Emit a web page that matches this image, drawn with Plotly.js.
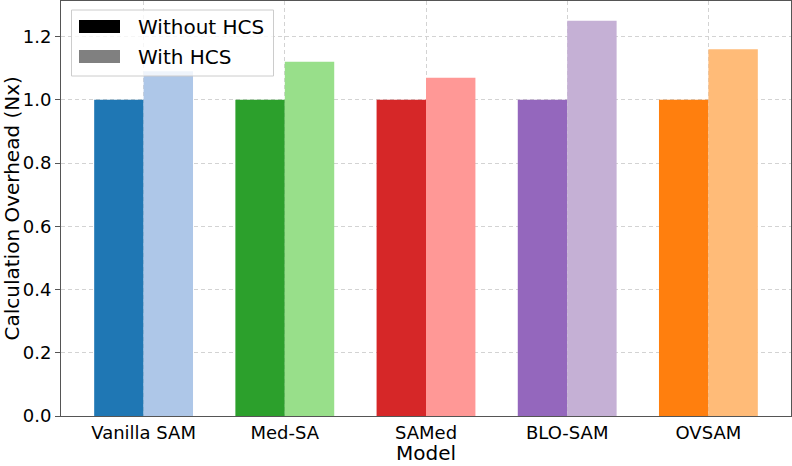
<!DOCTYPE html>
<html>
<head>
<meta charset="utf-8">
<script src="https://cdn.plot.ly/plotly-3.0.1.min.js"></script>
<style>html,body{margin:0;padding:0;background:#fff;}#chart{width:792px;height:466px;}</style>
</head>
<body>
<div id="chart"></div>
<script>
const categories = ['Vanilla SAM', 'Med-SA', 'SAMed', 'BLO-SAM', 'OVSAM'];
const withoutHCS = [1.0, 1.0, 1.0, 1.0, 1.0];
const withHCS = [1.09, 1.12, 1.07, 1.25, 1.16];
const darkColors = ['#1f77b4', '#2ca02c', '#d62728', '#9467bd', '#ff7f0e'];
const lightColors = ['#aec7e8', '#98df8a', '#ff9896', '#c5b0d5', '#ffbb78'];
const legendLabels = ['Without HCS', 'With HCS'];
const legendColors = ['#000000', '#808080'];
const yTicks = [0, 0.2, 0.4, 0.6, 0.8, 1.0, 1.2];
const xTitle = 'Model';
const yTitle = 'Calculation Overhead (Nx)';

const xIdx = categories.map((c, i) => i);
const xRange = [-0.585, 4.585];
const font = 'DejaVu Sans, sans-serif';

const traces = [
  {type: 'bar', x: xIdx, y: withoutHCS, name: legendLabels[0], width: 0.35, offset: -0.35,
   marker: {color: darkColors, line: {width: 0}}, showlegend: false, hoverinfo: 'skip'},
  {type: 'bar', x: xIdx, y: withHCS, name: legendLabels[1], width: 0.35, offset: 0,
   marker: {color: lightColors, line: {width: 0}}, showlegend: false, hoverinfo: 'skip'}
];

// plot area in pixels: x 61..791, y 1..416
const L = 61, R = 791, T = 1, B = 416;
const px = v => (v - L) / (R - L);
const py = v => (B - v) / (B - T);

const shapes = [
  {type: 'rect', xref: 'paper', yref: 'paper', x0: px(71.5), x1: px(273.5), y0: py(76), y1: py(10),
   fillcolor: 'rgba(255,255,255,0.8)', line: {color: '#cccccc', width: 1}, layer: 'above'}
];
const annotations = [];
legendLabels.forEach((lab, i) => {
  const cy = 26.5 + i * 30;
  shapes.push({type: 'rect', xref: 'paper', yref: 'paper', x0: px(79), x1: px(120),
    y0: py(cy + 6.5), y1: py(cy - 6.5), fillcolor: legendColors[i], line: {width: 0}, layer: 'above'});
  annotations.push({xref: 'paper', yref: 'paper', x: px(136), y: py(cy), xanchor: 'left', yanchor: 'middle',
    text: lab, showarrow: false, font: {family: font, size: 20, color: '#000'}});
});
annotations.push({xref: 'paper', yref: 'paper', x: 0.5, y: py(466), xanchor: 'center', yanchor: 'bottom',
  text: xTitle, showarrow: false, borderpad: 0, font: {family: font, size: 20, color: '#000'}});
annotations.push({xref: 'paper', yref: 'paper', x: px(11), y: 0.5, xanchor: 'center', yanchor: 'middle',
  textangle: -90, text: yTitle, showarrow: false, borderpad: 0, font: {family: font, size: 20, color: '#000'}});

const layout = {
  width: 792, height: 466,
  margin: {l: L, r: 792 - R, t: T, b: 466 - B},
  paper_bgcolor: '#fff', plot_bgcolor: '#fff',
  font: {family: font, color: '#000'},
  barmode: 'overlay',
  showlegend: false,
  xaxis: {
    range: xRange, tickmode: 'array', tickvals: xIdx, ticktext: categories,
    ticks: '', tickfont: {size: 18, family: font},
    showline: true, linecolor: '#555', linewidth: 1, mirror: true,
    showgrid: true, gridcolor: '#d3d3d3', griddash: '4px,3px', gridwidth: 1,
    zeroline: false
  },
  xaxis2: {
    overlaying: 'x', side: 'bottom', anchor: 'y', range: xRange, tickmode: 'array', tickvals: xIdx,
    ticks: 'outside', ticklen: 4, tickcolor: '#555', showticklabels: false,
    showline: false, showgrid: false, zeroline: false
  },
  yaxis: {
    range: [0, 1.3125], tickmode: 'array', tickvals: yTicks, tickformat: '.1f',
    ticks: 'outside', ticklen: 5, tickcolor: '#555', tickfont: {size: 18, family: font},
    showline: true, linecolor: '#555', linewidth: 1, mirror: true,
    showgrid: true, gridcolor: '#d3d3d3', griddash: '4px,3px', gridwidth: 1,
    zeroline: false
  },
  shapes: shapes,
  annotations: annotations
};

Plotly.newPlot('chart', traces, layout, {displayModeBar: false, staticPlot: true});
</script>
</body>
</html>
